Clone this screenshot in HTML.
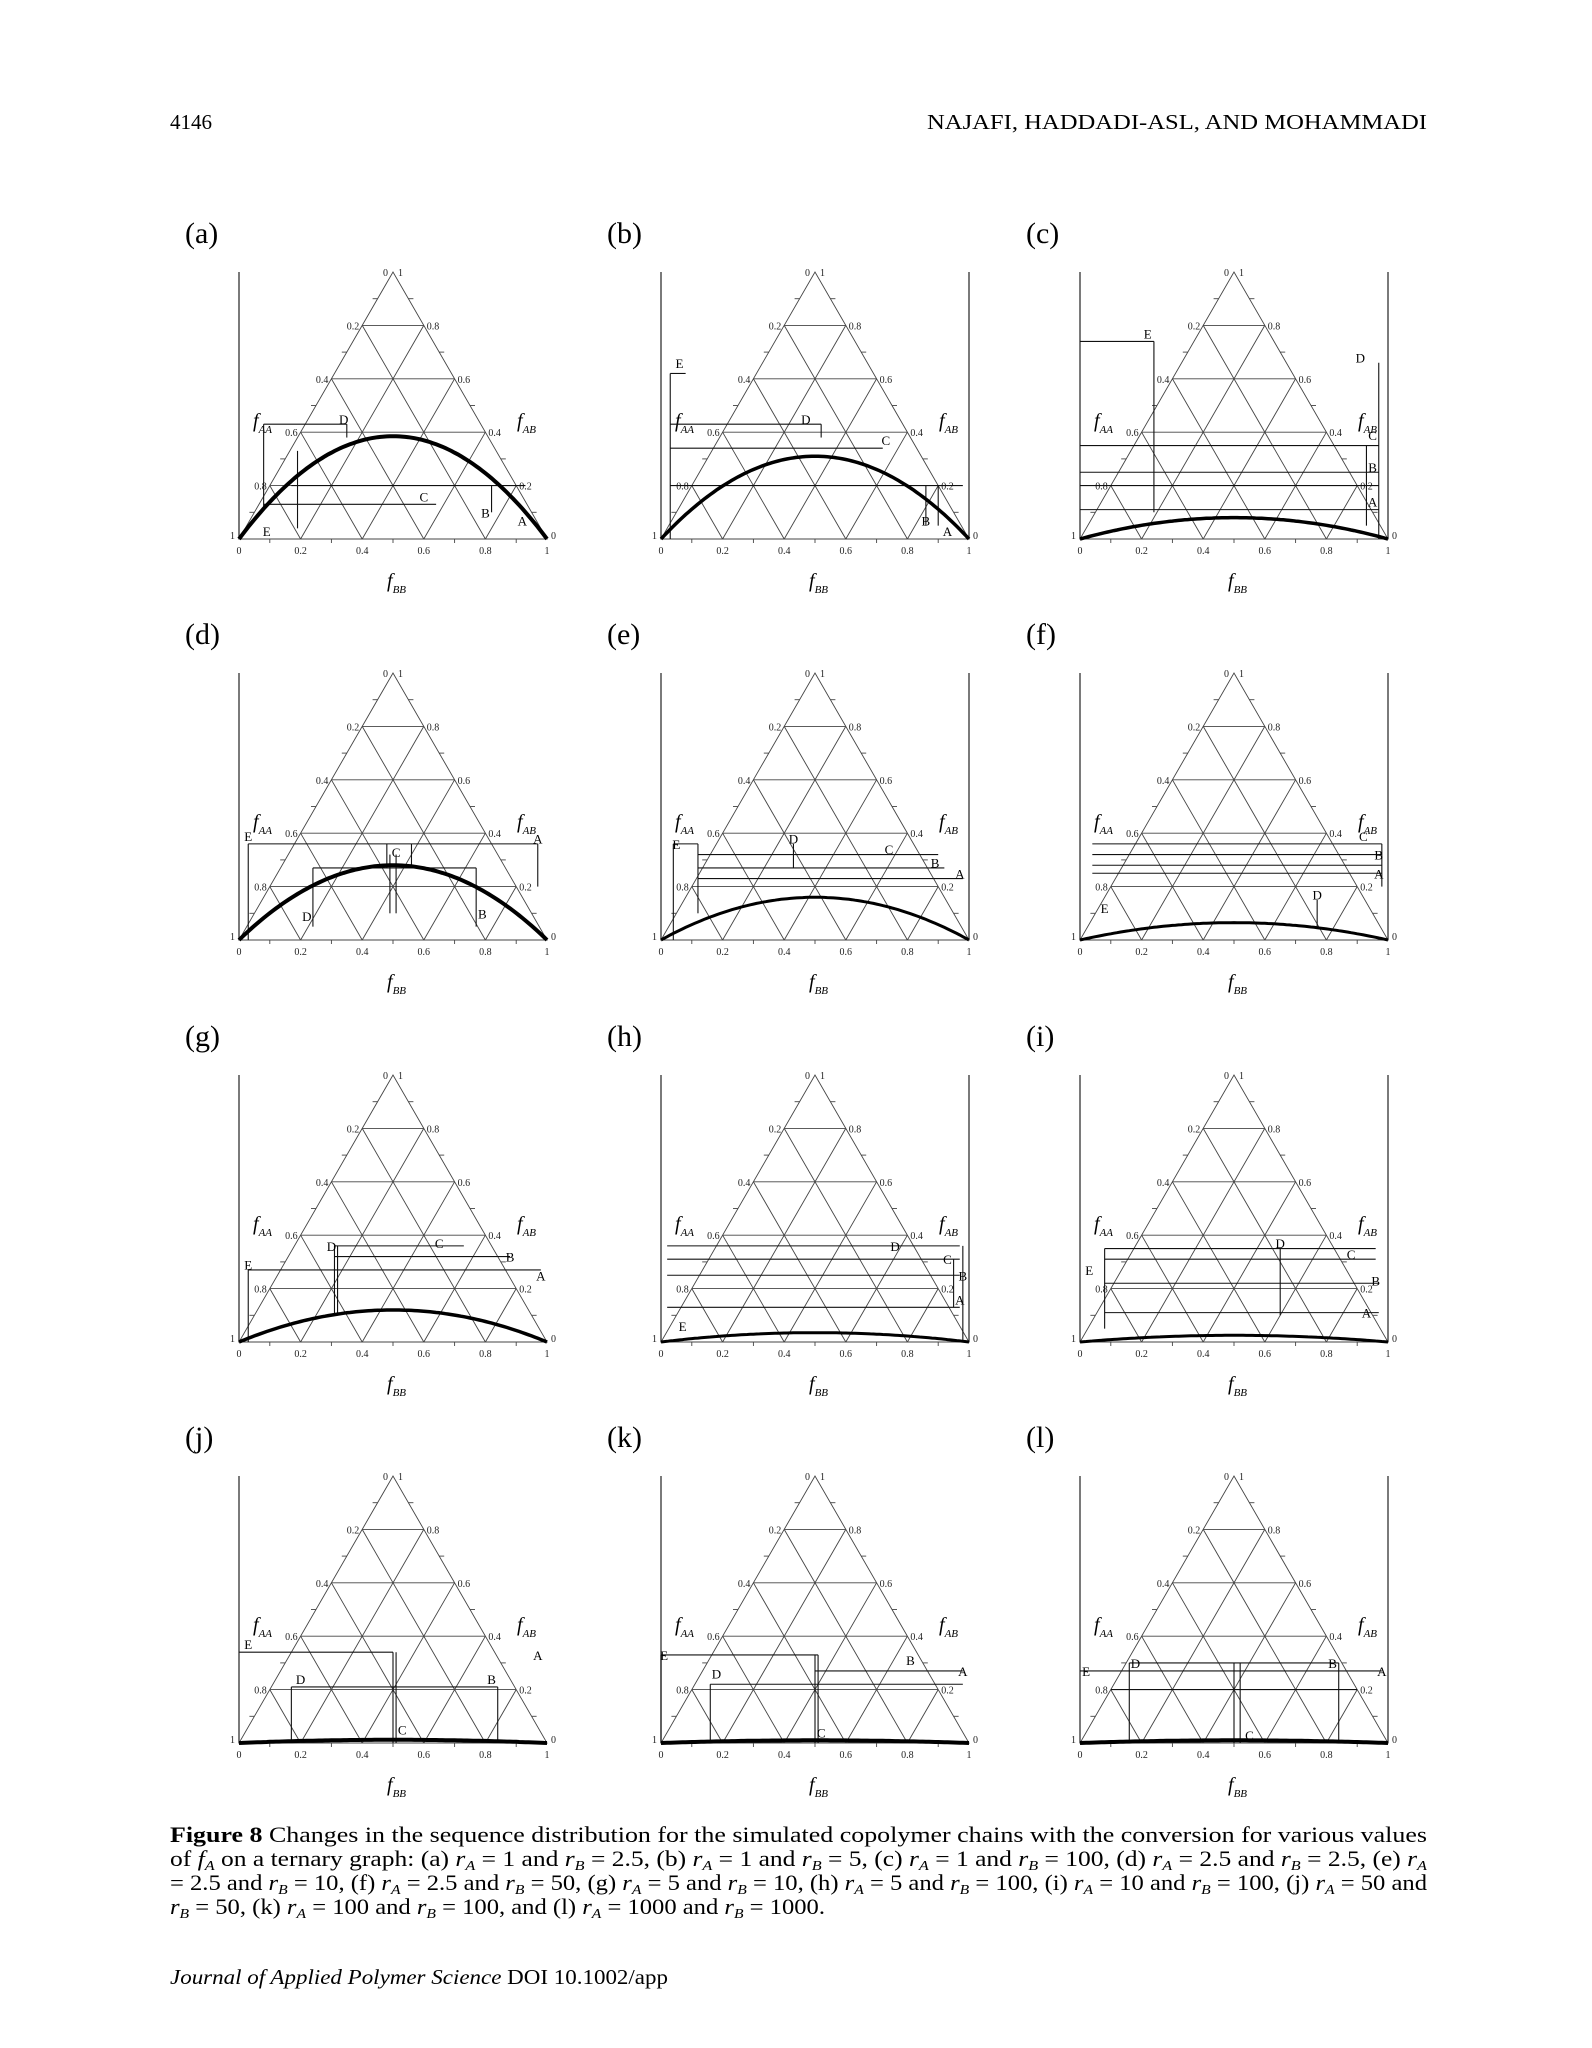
<!DOCTYPE html>
<html><head><meta charset="utf-8">
<style>
html,body{margin:0;padding:0;background:#fff;}
svg{display:block;}
.t{font-family:"Liberation Serif",serif;}
</style></head>
<body>
<svg id="page" width="1592" height="2048" viewBox="0 0 1592 2048" xmlns="http://www.w3.org/2000/svg">
<text class="t" x="170" y="129" font-size="21">4146</text>
<text class="t" x="927" y="129" font-size="21" textLength="500" lengthAdjust="spacingAndGlyphs">NAJAFI, HADDADI-ASL, AND MOHAMMADI</text>
<g id="panels"></g>
<g class="t" font-size="22">
<text x="170" y="1842" textLength="1257" lengthAdjust="spacingAndGlyphs"><tspan font-weight="bold">Figure 8</tspan>   Changes in the sequence distribution for the simulated copolymer chains with the conversion for various values</text>
<text x="170" y="1866" textLength="1257" lengthAdjust="spacingAndGlyphs">of <tspan font-style="italic">f</tspan><tspan font-size="14" dy="4" font-style="italic">A</tspan><tspan dy="-4"> on a ternary graph: (a) </tspan><tspan font-style="italic">r</tspan><tspan font-size="14" dy="4" font-style="italic">A</tspan><tspan dy="-4"> = 1 and </tspan><tspan font-style="italic">r</tspan><tspan font-size="14" dy="4" font-style="italic">B</tspan><tspan dy="-4"> = 2.5, (b) </tspan><tspan font-style="italic">r</tspan><tspan font-size="14" dy="4" font-style="italic">A</tspan><tspan dy="-4"> = 1 and </tspan><tspan font-style="italic">r</tspan><tspan font-size="14" dy="4" font-style="italic">B</tspan><tspan dy="-4"> = 5, (c) </tspan><tspan font-style="italic">r</tspan><tspan font-size="14" dy="4" font-style="italic">A</tspan><tspan dy="-4"> = 1 and </tspan><tspan font-style="italic">r</tspan><tspan font-size="14" dy="4" font-style="italic">B</tspan><tspan dy="-4"> = 100, (d) </tspan><tspan font-style="italic">r</tspan><tspan font-size="14" dy="4" font-style="italic">A</tspan><tspan dy="-4"> = 2.5 and </tspan><tspan font-style="italic">r</tspan><tspan font-size="14" dy="4" font-style="italic">B</tspan><tspan dy="-4"> = 2.5, (e) </tspan><tspan font-style="italic">r</tspan><tspan font-size="14" dy="4" font-style="italic">A</tspan></text>
<text x="170" y="1890" textLength="1257" lengthAdjust="spacingAndGlyphs">= 2.5 and <tspan font-style="italic">r</tspan><tspan font-size="14" dy="4" font-style="italic">B</tspan><tspan dy="-4"> = 10, (f) </tspan><tspan font-style="italic">r</tspan><tspan font-size="14" dy="4" font-style="italic">A</tspan><tspan dy="-4"> = 2.5 and </tspan><tspan font-style="italic">r</tspan><tspan font-size="14" dy="4" font-style="italic">B</tspan><tspan dy="-4"> = 50, (g) </tspan><tspan font-style="italic">r</tspan><tspan font-size="14" dy="4" font-style="italic">A</tspan><tspan dy="-4"> = 5 and </tspan><tspan font-style="italic">r</tspan><tspan font-size="14" dy="4" font-style="italic">B</tspan><tspan dy="-4"> = 10, (h) </tspan><tspan font-style="italic">r</tspan><tspan font-size="14" dy="4" font-style="italic">A</tspan><tspan dy="-4"> = 5 and </tspan><tspan font-style="italic">r</tspan><tspan font-size="14" dy="4" font-style="italic">B</tspan><tspan dy="-4"> = 100, (i) </tspan><tspan font-style="italic">r</tspan><tspan font-size="14" dy="4" font-style="italic">A</tspan><tspan dy="-4"> = 10 and </tspan><tspan font-style="italic">r</tspan><tspan font-size="14" dy="4" font-style="italic">B</tspan><tspan dy="-4"> = 100, (j) </tspan><tspan font-style="italic">r</tspan><tspan font-size="14" dy="4" font-style="italic">A</tspan><tspan dy="-4"> = 50 and</tspan></text>
<text x="170" y="1914" textLength="655" lengthAdjust="spacingAndGlyphs"><tspan font-style="italic">r</tspan><tspan font-size="14" dy="4" font-style="italic">B</tspan><tspan dy="-4"> = 50, (k) </tspan><tspan font-style="italic">r</tspan><tspan font-size="14" dy="4" font-style="italic">A</tspan><tspan dy="-4"> = 100 and </tspan><tspan font-style="italic">r</tspan><tspan font-size="14" dy="4" font-style="italic">B</tspan><tspan dy="-4"> = 100, and (l) </tspan><tspan font-style="italic">r</tspan><tspan font-size="14" dy="4" font-style="italic">A</tspan><tspan dy="-4"> = 1000 and </tspan><tspan font-style="italic">r</tspan><tspan font-size="14" dy="4" font-style="italic">B</tspan><tspan dy="-4"> = 1000.</tspan></text>
</g>
<text class="t" x="170" y="1984" font-size="21" textLength="498" lengthAdjust="spacingAndGlyphs"><tspan font-style="italic">Journal of Applied Polymer Science</tspan> DOI 10.1002/app</text>
</svg>
<script>
const panelNames = ['a','b','c','d','e','f','g','h','i','j','k','l'];
const peakFAB = [0.385,0.31,0.08,0.28,0.16,0.065,0.12,0.035,0.025,0.012,0.01,0.01];
const curveWidth = [4,3.5,3.5,4,3,3,3.5,3,3,4,4,4];
const rightLine = [0,1,1,0,1,1,0,1,1,0,0,1];
const tickVals = ['0.2','0.4','0.6','0.8'];
const annoLines = [
 [[0.08,0.43,0.35,0.43],[0.08,0.43,0.08,0.12],[0.35,0.43,0.35,0.38],[0.17,0.2,0.93,0.2],[0.08,0.13,0.64,0.13],[0.82,0.2,0.82,0.1],[0.19,0.33,0.19,0.04]],
 [[0.03,0.62,0.03,0],[0.03,0.62,0.08,0.62],[0.03,0.43,0.52,0.43],[0.52,0.43,0.52,0.38],[0.03,0.34,0.72,0.34],[0.03,0.2,0.98,0.2],[0.86,0.2,0.86,0.05],[0.9,0.2,0.9,0.05]],
 [[0,0.74,0.24,0.74],[0.24,0.74,0.24,0.1],[0.97,0.66,0.97,0],[0,0.35,0.97,0.35],[0,0.25,0.97,0.25],[0,0.2,0.97,0.2],[0,0.11,0.97,0.11],[0.93,0.35,0.93,0.05]],
 [[0.03,0.36,0.97,0.36],[0.03,0.36,0.03,0],[0.97,0.36,0.97,0.2],[0.48,0.36,0.48,0.27],[0.56,0.36,0.56,0.27],[0.24,0.27,0.77,0.27],[0.24,0.27,0.24,0.05],[0.77,0.27,0.77,0.05],[0.49,0.32,0.49,0.1],[0.51,0.32,0.51,0.1]],
 [[0.04,0.36,0.04,0],[0.12,0.32,0.9,0.32],[0.12,0.27,0.92,0.27],[0.12,0.23,0.98,0.23],[0.43,0.36,0.43,0.27],[0.04,0.36,0.12,0.36],[0.12,0.36,0.12,0.1]],
 [[0.04,0.36,0.98,0.36],[0.04,0.32,0.98,0.32],[0.04,0.28,0.98,0.28],[0.04,0.25,0.98,0.25],[0.77,0.15,0.77,0.05],[0.98,0.36,0.98,0.2]],
 [[0.31,0.36,0.73,0.36],[0.31,0.32,0.88,0.32],[0.03,0.27,0.98,0.27],[0.31,0.36,0.31,0.1],[0.32,0.36,0.32,0.1],[0.03,0.27,0.03,0]],
 [[0.02,0.36,0.97,0.36],[0.02,0.31,0.97,0.31],[0.02,0.25,0.97,0.25],[0.02,0.13,0.97,0.13],[0.98,0.36,0.98,0],[0.95,0.31,0.95,0.13]],
 [[0.08,0.35,0.96,0.35],[0.08,0.31,0.96,0.31],[0.08,0.22,0.97,0.22],[0.08,0.11,0.97,0.11],[0.65,0.35,0.65,0.1],[0.08,0.35,0.08,0.05]],
 [[0,0.34,0.5,0.34],[0.17,0.21,0.84,0.21],[0.17,0.21,0.17,0],[0.84,0.21,0.84,0],[0.5,0.34,0.5,0],[0.51,0.34,0.51,0]],
 [[0,0.33,0.51,0.33],[0.16,0.22,0.98,0.22],[0.5,0.27,0.98,0.27],[0.16,0.22,0.16,0],[0.5,0.33,0.5,0],[0.51,0.33,0.51,0],[0,0.33,0,0]],
 [[0,0.27,0.98,0.27],[0.16,0.3,0.84,0.3],[0.16,0.3,0.16,0],[0.84,0.3,0.84,0],[0.5,0.3,0.5,0],[0.52,0.3,0.52,0],[0.1,0.2,0.9,0.2]]
];
const annoLetters = ['A','B','C','D','E'];
const annoPos = [
 [[0.92,0.07],[0.8,0.1],[0.6,0.16],[0.34,0.45],[0.09,0.03]],
 [[0.93,0.03],[0.86,0.07],[0.73,0.37],[0.47,0.45],[0.06,0.66]],
 [[0.95,0.14],[0.95,0.27],[0.95,0.39],[0.91,0.68],[0.22,0.77]],
 [[0.97,0.38],[0.79,0.1],[0.51,0.33],[0.22,0.09],[0.03,0.39]],
 [[0.97,0.25],[0.89,0.29],[0.74,0.34],[0.43,0.38],[0.05,0.36]],
 [[0.97,0.25],[0.97,0.32],[0.92,0.39],[0.77,0.17],[0.08,0.12]],
 [[0.98,0.25],[0.88,0.32],[0.65,0.37],[0.3,0.36],[0.03,0.29]],
 [[0.97,0.16],[0.98,0.25],[0.93,0.31],[0.76,0.36],[0.07,0.06]],
 [[0.93,0.11],[0.96,0.23],[0.88,0.33],[0.65,0.37],[0.03,0.27]],
 [[0.97,0.33],[0.82,0.24],[0.53,0.05],[0.2,0.24],[0.03,0.37]],
 [[0.98,0.27],[0.81,0.31],[0.52,0.04],[0.18,0.26],[0.01,0.33]],
 [[0.98,0.27],[0.82,0.3],[0.55,0.03],[0.18,0.3],[0.02,0.27]]
];
const colLeft = [239,661,1080];
const rowBase = [539,940,1342,1743];
const W = 308, H = 267;
const NS = 'http://www.w3.org/2000/svg';
const root = document.getElementById('panels');
function mk(tag, attrs, parent){const e=document.createElementNS(NS,tag);for(const k in attrs)e.setAttribute(k,attrs[k]);parent.appendChild(e);return e;}
panelNames.forEach((nm,i)=>{
  const X0 = colLeft[i%3], Y0 = rowBase[Math.floor(i/3)];
  const px = u=>X0 + W*u;
  const py = v=>Y0 - H*v;
  const g = mk('g',{},root);
  
  
  const lab = mk('text',{x:X0-54,y:Y0-H-29,'font-size':30,class:'t'},g);
  
  
  lab.textContent='('+nm+')';
  const vl = mk('line',{x1:X0,y1:Y0-H,x2:X0,y2:Y0,stroke:'#333','stroke-width':1.3},g);
  
  
  if(rightLine[i]){const vr=mk('line',{x1:X0+W,y1:Y0-H,x2:X0+W,y2:Y0,stroke:'#333','stroke-width':1.3},g);
    
    }
  const grid = mk('g',{stroke:'#444','stroke-width':0.9,fill:'none'},g);
  
  
  mk('polygon',{points:`${X0},${Y0} ${X0+W},${Y0} ${X0+W/2},${Y0-H}`},grid);
  for(let k=1;k<5;k++){
    const v=k/5;
    mk('line',{x1:px(v/2),y1:py(v),x2:px(1-v/2),y2:py(v)},grid);
    mk('line',{x1:px(k/5),y1:Y0,x2:px(k/10),y2:py(k/5)},grid);
    mk('line',{x1:px(k/5),y1:Y0,x2:px(0.5+k/10),y2:py(1-k/5)},grid);
  }
  for(let k=1;k<10;k+=2){
    const v=k/10;
    mk('line',{x1:px(v/2),y1:py(v),x2:px(v/2)-5,y2:py(v)},grid);
    mk('line',{x1:px(1-v/2),y1:py(v),x2:px(1-v/2)+5,y2:py(v)},grid);
    mk('line',{x1:px(v),y1:Y0,x2:px(v),y2:Y0+4},grid);
  }
  const tk = mk('g',{'font-size':10,class:'t',fill:'#222'},g);
  
  
  tickVals.forEach((t,j)=>{
    const v=(j+1)/5;
    mk('text',{x:px(v/2)-3,y:py(v)+4,'text-anchor':'end'},tk).textContent=tickVals[3-j];
    mk('text',{x:px(1-v/2)+3,y:py(v)+4},tk).textContent=t;
    mk('text',{x:px(v),y:Y0+15,'text-anchor':'middle'},tk).textContent=t;
  });
  mk('text',{x:px(0.5)-5,y:Y0-H+4,'text-anchor':'end'},tk).textContent='0';
  mk('text',{x:px(0.5)+5,y:Y0-H+4},tk).textContent='1';
  mk('text',{x:X0-4,y:Y0,'text-anchor':'end'},tk).textContent='1';
  mk('text',{x:X0,y:Y0+15,'text-anchor':'middle'},tk).textContent='0';
  mk('text',{x:X0+W+4,y:Y0}, tk).textContent='0';
  mk('text',{x:X0+W,y:Y0+15,'text-anchor':'middle'},tk).textContent='1';
  const ax=[['f-aa-label','AA',X0+14,Y0-H*0.42],['f-ab-label','AB',X0+W-30,Y0-H*0.42],['f-bb-label','BB',X0+W/2-6,Y0+48]];
  ax.forEach(a=>{const t=mk('text',{x:a[2],y:a[3],class:'t','font-style':'italic','font-size':20},g);
    
    
    t.innerHTML='f<tspan font-size="11" dy="6">'+a[1]+'</tspan>';});
  const an = mk('g',{stroke:'#111','stroke-width':1.1,fill:'none'},g);
  
  
  annoLines[i].forEach(l=>mk('line',{x1:px(l[0]),y1:py(l[1]),x2:px(l[2]),y2:py(l[3])},an));
  annoPos[i].forEach((p,j)=>{const t=mk('text',{x:px(p[0]),y:py(p[1])+5,class:'t','font-size':13,'text-anchor':'middle'},g);
    
    
    t.textContent=annoLetters[j];});
  let d='';
  for(let s=0;s<=100;s++){const u=s/100;const v=peakFAB[i]*4*u*(1-u);d+=(s?'L':'M')+px(u).toFixed(1)+','+py(v).toFixed(1);}
  const c=mk('path',{d:d,stroke:'#000','stroke-width':curveWidth[i],fill:'none'},g);
  
  
});
</script>
</body></html>
